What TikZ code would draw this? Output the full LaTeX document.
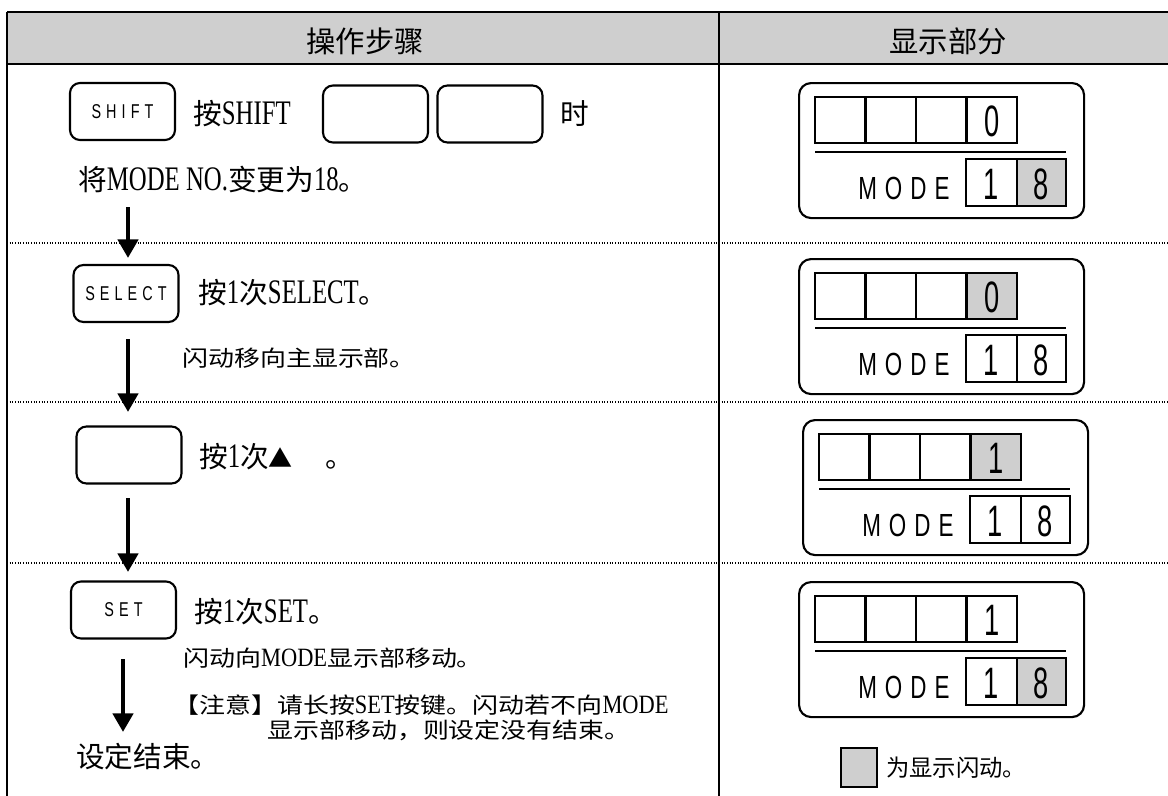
\documentclass[tikz,border=0pt]{standalone}
\usepackage{fontspec}
\usepackage{graphicx}
\usetikzlibrary{arrows.meta}
\newfontfamily\cjk{Noto Sans CJK SC}
\newfontfamily\latf{Liberation Serif}[FakeStretch=0.72,Scale=1.2]
\newfontfamily\keyf{Liberation Sans}[FakeStretch=0.72]
\newfontfamily\dispf{Liberation Sans}[FakeStretch=0.62]
\newfontfamily\modef{Liberation Sans}[FakeStretch=0.7]
\newcommand\lat[1]{{\latf #1}}
\newcommand\wide[1]{\scalebox{1.18}[1]{#1}}
\newcommand\spc{\kern3.8pt}
\newcommand\mspc{\kern6pt}
\colorlet{blinkgray}{black!19}
\tikzset{
  rule/.style={line width=1.8pt},
  sepline/.style={line width=0.8pt, dash pattern=on 0.8pt off 1.2pt},
  keybox/.style={draw, line width=1.6pt, rounded corners=7.5pt, minimum width=78.75pt, minimum height=42.75pt, inner sep=0pt, font={\keyf\fontsize{15pt}{16pt}\selectfont}},
  txt/.style={anchor=west, inner sep=0pt, font={\cjk\fontsize{21.5pt}{26pt}\selectfont}},
  smalltxt/.style={anchor=west, inner sep=0pt, font={\cjk\fontsize{16.5pt}{20pt}\selectfont}},
  headtxt/.style={inner sep=0pt, font={\cjk\fontsize{22pt}{26pt}\selectfont}},
  flow/.style={line width=3.4pt, -{Triangle[width=15pt,length=14pt]}},
  dispbox/.style={draw, line width=1.6pt, rounded corners=9pt, minimum width=213.75pt, minimum height=101.25pt, inner sep=0pt, anchor=north west},
  cellline/.style={line width=1.8pt},
  digit/.style={inner sep=0pt, anchor=base, font={\dispf\fontsize{33pt}{35pt}\selectfont}},
  modetxt/.style={inner sep=0pt, anchor=base west, font={\modef\fontsize{24pt}{26pt}\selectfont}},
}
% name, x, y, top digit, top-cell fill, mode-8 fill
\newcommand\dispunit[6]{%
\begin{scope}[shift={(#2,#3)}]
  \node[dispbox] (#1) at (0,0) {};
  \fill[#5] (168.5,15) rectangle (219,61);
  \fill[#6] (219,77) rectangle (268,124);
  \draw[cellline] (17,15) rectangle (219,61);
  \foreach \cx in {67.5,118,168.5} \draw[cellline] (\cx,15) -- (\cx,61);
  \draw[cellline] (17,70) -- (268,70);
  \draw[cellline] (168,77) rectangle (268,124);
  \draw[cellline] (219,77) -- (219,124);
  \node[digit] (#1top) at (193.75,54.5) {#4};
  \node[digit] (#1ma) at (193.5,117) {1};
  \node[digit] (#1mb) at (243.5,117) {8};
  \node[modetxt] (#1mode) at (60,117) {M\mspc O\mspc D\mspc E};
\end{scope}}
\begin{document}
\begin{tikzpicture}[x=0.75pt,y=-0.75pt]
\useasboundingbox (0,0) rectangle (1168,796);
% header band and frame
\fill[blinkgray] (7,12) rectangle (1168,64);
\draw[rule] (7,12) -- (1168,12);
\draw[rule] (7,64) -- (1168,64);
\draw[rule] (7,12) -- (7,796);
\draw[rule] (719,12) -- (719,796);
\node[headtxt] (h1) at (365,41) {操作步骤};
\node[headtxt] (h2) at (948,41) {显示部分};
% row separators
\draw[sepline] (7,243) -- (1168,243);
\draw[sepline] (7,402) -- (1168,402);
\draw[sepline] (7,563) -- (1168,563);
% row 1
\node[keybox] (kshift) at (122.5,111.5) {S\spc H\spc I\spc F\spc T};
\node[txt] (t1a) at (193,114) {按\lat{SHIFT}};
\node[keybox] (kb1) at (375.5,114) {};
\node[keybox] (kb2) at (490,114) {};
\node[txt] (t1b) at (560,114) {时};
\node[txt] (t1c) at (78,180) {将\lat{MODE NO.}变更为\lat{18}。};
% row 2
\node[keybox] (ksel) at (126,293.5) {S\spc E\spc L\spc E\spc C\spc T};
\node[txt] (t2a) at (198,293) {按\lat{1}次\lat{SELECT}。};
\node[smalltxt] (t2b) at (182,358) {\wide{闪动移向主显示部。}};
% row 3
\node[keybox] (kup) at (129,455) {};
\node[txt] (t3a) at (199,457) {按\lat{1}次{\fontsize{18pt}{20pt}\selectfont ▲}\hspace{1.15em}。};
% row 4
\node[keybox] (kset) at (123.5,610) {S\spc E\spc T};
\node[txt] (t4a) at (194,612) {按\lat{1}次\lat{SET}。};
\node[smalltxt] (t4b) at (183,658) {\wide{闪动向\lat{MODE}显示部移动。}};
\node[smalltxt] (t4c) at (173,705) {\wide{【注意】请长按\lat{SET}按键。闪动若不向\lat{MODE}}};
\node[smalltxt] (t4d) at (267,730) {\wide{显示部移动，则设定没有结束。}};
\node[txt] (t4e) at (76,757) {设定结束。};
% flow arrows
\coordinate (a1s) at (128,207); \coordinate (a1e) at (128,258);
\coordinate (a2s) at (128,339); \coordinate (a2e) at (128,412);
\coordinate (a3s) at (128,498); \coordinate (a3e) at (128,572);
\coordinate (a4s) at (123,659); \coordinate (a4e) at (123,732);
\draw[flow] (a1s) -- (a1e);
\draw[flow] (a2s) -- (a2e);
\draw[flow] (a3s) -- (a3e);
\draw[flow] (a4s) -- (a4e);
% displays
\dispunit{d1}{798}{82}{0}{white}{blinkgray}
\dispunit{d2}{798}{258}{0}{blinkgray}{white}
\dispunit{d3}{802}{419}{1}{blinkgray}{white}
\dispunit{d4}{798}{581}{1}{white}{blinkgray}
% legend
\node[draw, line width=1.4pt, fill=blinkgray, minimum width=27pt, minimum height=29.25pt, inner sep=0pt] (leg) at (859,767.5) {};
\node[smalltxt, font={\cjk\fontsize{17.5pt}{21pt}\selectfont}] (legt) at (886,768) {为显示闪动。};
\end{tikzpicture}
\end{document}
